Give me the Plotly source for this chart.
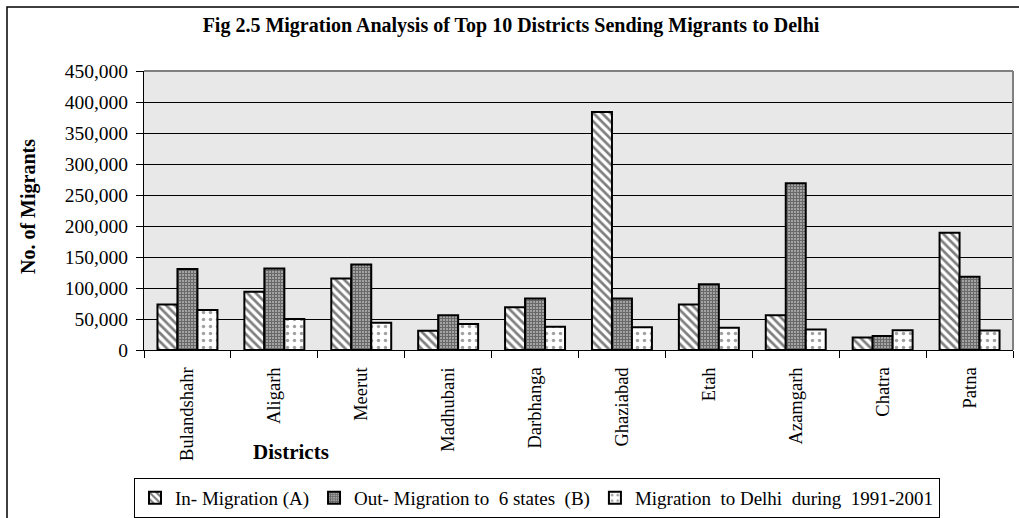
import plotly.graph_objects as go

districts = ["Bulandshahr", "Aligarh", "Meerut", "Madhubani", "Darbhanga",
             "Ghaziabad", "Etah", "Azamgarh", "Chatra", "Patna"]
in_migration = [73500, 94000, 115500, 31000, 69000, 384000, 73500, 56000, 20000, 189000]
out_migration = [130500, 131500, 138000, 56000, 83000, 83000, 106000, 269000, 22500, 118000]
delhi_migration = [64500, 50000, 44000, 42000, 37500, 36500, 36000, 33000, 32000, 31500]
series_names = ["In- Migration (A)", "Out- Migration to  6 states  (B)",
                "Migration  to Delhi  during  1991-2001"]
y_ticks = [0, 50000, 100000, 150000, 200000, 250000, 300000, 350000, 400000, 450000]

FONT = "Liberation Serif, Times New Roman, serif"
L, R, T, B = 144, 6, 71, 168
PW, PH = 1019 - L - R, 518 - T - B

fig = go.Figure()
fig.add_trace(go.Bar(
    x=districts, y=in_migration, name=series_names[0],
    marker=dict(color="white", line=dict(color="black", width=2),
                pattern=dict(shape="\\", fgcolor="black", bgcolor="white",
                             size=6, solidity=0.45)),
))
fig.add_trace(go.Bar(
    x=districts, y=out_migration, name=series_names[1],
    marker=dict(color="#555555", line=dict(color="black", width=2),
                pattern=dict(shape="+", fgcolor="#2a2a2a", bgcolor="#a8a8a8",
                             size=3, solidity=0.62)),
))
fig.add_trace(go.Bar(
    x=districts, y=delhi_migration, name=series_names[2],
    marker=dict(color="white", line=dict(color="black", width=2),
                pattern=dict(shape=".", fgcolor="#444444", bgcolor="white",
                             size=7, solidity=0.2)),
))

fig.update_layout(
    width=1019, height=518,
    margin=dict(l=L, r=R, t=T, b=B, autoexpand=False),
    paper_bgcolor="white",
    plot_bgcolor="#e8e8e8",
    barmode="group",
    bargap=0.31,
    bargroupgap=0,
    font=dict(family=FONT, size=19, color="black"),
    title=dict(text="<b>Fig 2.5 Migration Analysis of Top 10 Districts Sending Migrants to Delhi</b>",
               x=511 / 1019, xanchor="center", y=1 - 25 / 518, yanchor="middle",
               font=dict(family=FONT, size=20, color="black")),
    showlegend=True,
    legend=dict(orientation="h", x=(134 - L) / PW, xanchor="left",
                y=(350 - 478) / PH, yanchor="top",
                bordercolor="black", borderwidth=1, bgcolor="white",
                font=dict(family=FONT, size=19, color="black"),
                itemwidth=30, tracegroupgap=0),
)

fig.update_xaxes(
    type="category",
    tickangle=-90,
    ticks="outside", ticklen=7, tickcolor="black",
    tickson="boundaries",
    ticklabelstandoff=9,
    showline=True, linecolor="black", linewidth=1,
    showgrid=False,
    tickfont=dict(family=FONT, size=18.5, color="black"),
)
fig.update_yaxes(
    range=[0, 450000],
    tickvals=y_ticks,
    tickformat=",",
    ticks="outside", ticklen=7, tickcolor="black",
    ticklabelstandoff=4,
    showline=True, linecolor="black", linewidth=1,
    showgrid=True, gridcolor="black", gridwidth=1,
    zeroline=False,
    tickfont=dict(family=FONT, size=19.5, color="black"),
)

# plot-area frame (top and right)
fig.add_shape(type="line", xref="paper", yref="paper", x0=0, x1=1, y0=1, y1=1,
              line=dict(color="#808080", width=2))
fig.add_shape(type="line", xref="paper", yref="paper", x0=1, x1=1, y0=0, y1=1,
              line=dict(color="#808080", width=2))
# outer chart border
fig.add_shape(type="rect", xref="paper", yref="paper",
              x0=(7 - L) / PW, x1=1.2, y0=-1.0, y1=(350 - 7) / PH,
              line=dict(color="black", width=1.5), layer="below")

fig.add_annotation(text="<b>No. of Migrants</b>", xref="paper", yref="paper",
                   x=(28 - L) / PW, y=(350 - 207) / PH, showarrow=False,
                   textangle=-90, xanchor="center", yanchor="middle",
                   font=dict(family=FONT, size=20, color="black"))
fig.add_annotation(text="<b>Districts</b>", xref="paper", yref="paper",
                   x=(291 - L) / PW, y=(350 - 452) / PH, showarrow=False,
                   xanchor="center", yanchor="middle",
                   font=dict(family=FONT, size=21, color="black"))

fig.write_html("out.html")
